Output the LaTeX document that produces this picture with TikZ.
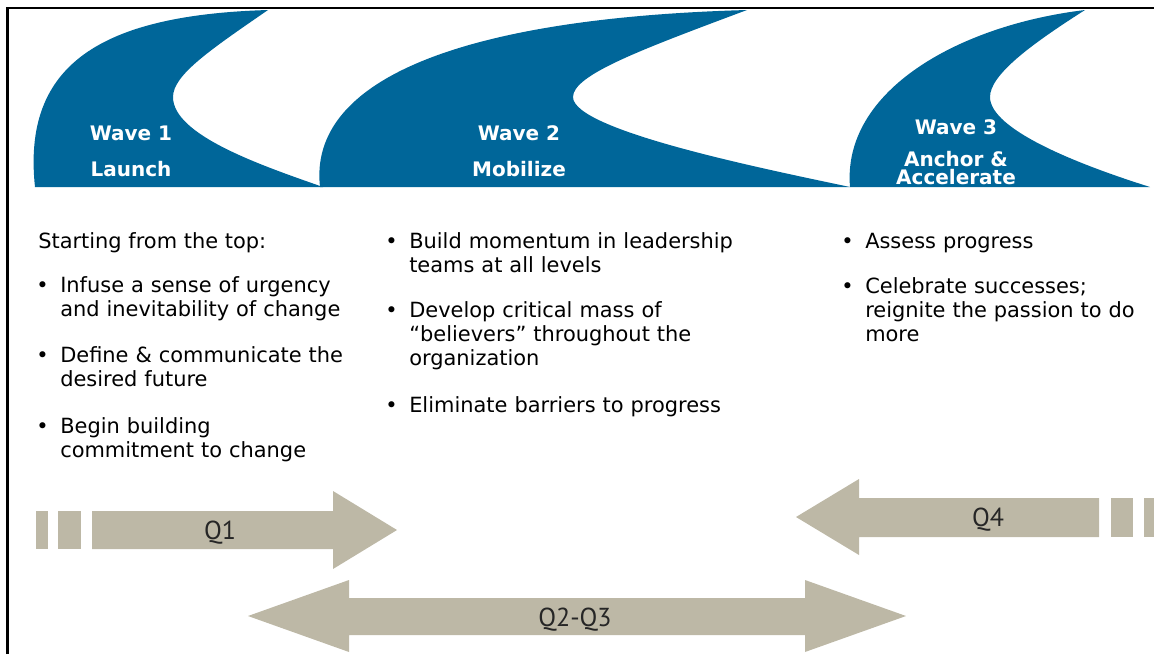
\documentclass[tikz,border=0pt]{standalone}
\usepackage{fontspec}
\setmainfont{DejaVu Sans}
\newfontfamily\quarterfont{PT Sans}
\usetikzlibrary{positioning}
\definecolor{waveblue}{HTML}{006699}
\definecolor{quartergray}{HTML}{BDB8A6}

\begin{document}
\begin{tikzpicture}[
    x=0.75pt, y=-0.75pt,
    wavetitle/.style={text=white, font=\fontsize{15pt}{18pt}\selectfont\bfseries,
      inner sep=0pt, anchor=base},
    intro/.style={font=\fontsize{15.7pt}{18.2pt}\selectfont, inner sep=0pt,
      anchor=base west},
    point/.style={intro, text width=250pt, align=left},
    dot/.style={font=\fontsize{15.7pt}{18.2pt}\selectfont, inner sep=0pt,
      anchor=base east},
    quarter/.style={font=\quarterfont\fontsize{19.5pt}{22pt}\selectfont,
      text=black!85, inner sep=0pt, anchor=base}
  ]
  \useasboundingbox (0,0) rectangle (1154,654);

  % frame, open on the right and at the bottom
  \draw[line width=1.6pt] (7.5,654) -- (7.5,8.3) -- (1154,8.3);

  % the three waves
  \fill[waveblue] (35,187) .. controls (22,65) and (100,15) .. (268,10)
    .. controls (210,50) and (173,75) .. (173,97)
    .. controls (173,135) and (260,165) .. (323,187) -- cycle;
  \fill[waveblue] (320,187) .. controls (308,80) and (460,18) .. (747,10)
    .. controls (640,50) and (573,75) .. (573,97)
    .. controls (573,130) and (760,168) .. (850,187) -- cycle;
  \fill[waveblue] (850,187) .. controls (842,90) and (960,25) .. (1085,10)
    .. controls (1030,45) and (990,75) .. (990,97)
    .. controls (990,130) and (1080,165) .. (1150,187) -- cycle;

  \node[wavetitle] (wave1) at (131,140) {Wave 1};
  \node[wavetitle] (launch) at (131,176) {Launch};
  \node[wavetitle] (wave2) at (519,140) {Wave 2};
  \node[wavetitle] (mobilize) at (519,176) {Mobilize};
  \node[wavetitle] (wave3) at (956,134) {Wave 3};
  \node[wavetitle] (anchor) at (956,166) {Anchor \&};
  \node[wavetitle] (accelerate) at (956,184) {Accelerate};

  % wave 1 actions
  \node[intro] (start) at (38,248) {Starting from the top:};
  \node[point] (urgency) at (60,292) {Infuse a sense of urgency\\and inevitability of change};
  \node[point] (future) at (60,362) {Define \& communicate the\\desired future};
  \node[point] (commit) at (60,433) {Begin building\\commitment to change};

  % wave 2 actions
  \node[point] (momentum) at (409,248) {Build momentum in leadership\\teams at all levels};
  \node[point] (believers) at (409,317) {Develop critical mass of\\“believers” throughout the\\organization};
  \node[point] (barriers) at (409,412) {Eliminate barriers to progress};

  % wave 3 actions
  \node[point] (assess) at (865,248) {Assess progress};
  \node[point] (celebrate) at (865,293) {Celebrate successes;\\reignite the passion to do\\more};

  \foreach \p in {urgency,future,commit,momentum,believers,barriers,assess,celebrate}
    \node[dot] (\p-dot) at ([xshift=-8.25pt]\p.base west) {\textbullet};

  % quarter arrows
  \fill[quartergray] (36,511) rectangle (48,549);
  \fill[quartergray] (58,511) rectangle (81,549);
  \fill[quartergray] (92,511) -- (333,511) -- (333,491) -- (397,530)
    -- (333,569) -- (333,549) -- (92,549) -- cycle;
  \node[quarter] (q1) at (220,539) {Q1};

  \fill[quartergray] (1111,498) rectangle (1133,537);
  \fill[quartergray] (1144,498) rectangle (1160,537);
  \fill[quartergray] (1099,498) -- (859,498) -- (859,479) -- (796,517)
    -- (859,555) -- (859,537) -- (1099,537) -- cycle;
  \node[quarter] (q4) at (988,526) {Q4};

  \fill[quartergray] (248,616) -- (349,580) -- (349,598) -- (805,598)
    -- (805,580) -- (906,616) -- (805,652) -- (805,635) -- (349,635)
    -- (349,652) -- cycle;
  \node[quarter] (q23) at (575,626) {Q2-Q3};
\end{tikzpicture}
\end{document}
